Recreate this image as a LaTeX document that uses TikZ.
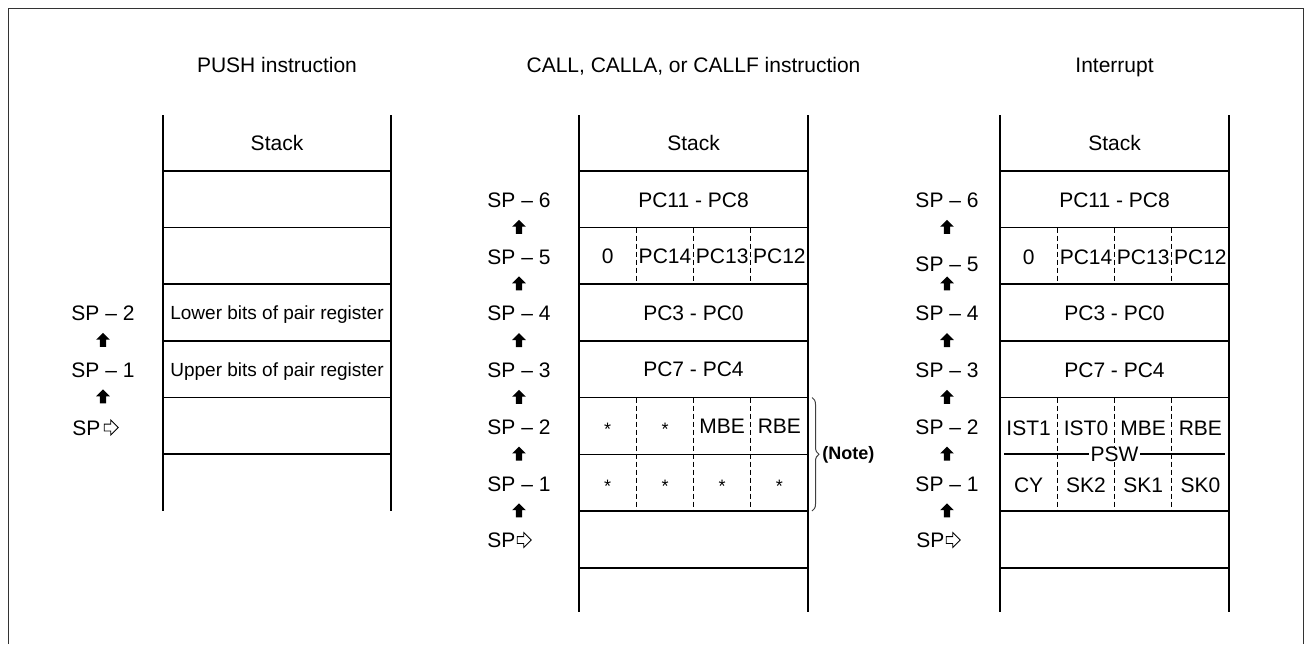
\documentclass[tikz,border=0pt]{standalone}
\usepackage{fontspec}
\setmainfont{Liberation Sans}
\usetikzlibrary{positioning,shapes.arrows,decorations.pathreplacing}

\tikzset{
	txt/.style={inner sep=0pt, font=\fontsize{10.5}{12.6}\selectfont, text height=7.5pt, text depth=0pt},
	small/.style={inner sep=0pt, font=\fontsize{9.5}{11.4}\selectfont, text height=6.8pt, text depth=0pt},
	star/.style={txt, font=\fontsize{9}{10.8}\selectfont, yshift=-0.8pt},
	note/.style={inner sep=0pt, font=\bfseries\fontsize{9}{10.8}\selectfont, anchor=west},
	uarr/.style={single arrow, fill=black, shape border rotate=90, inner sep=1.4pt,
		minimum height=7pt, minimum width=6.5pt, single arrow head extend=1.8pt},
	rarr/.style={single arrow, draw, fill=white, line width=0.4pt, inner sep=1.5pt,
		minimum height=7pt, minimum width=7pt, single arrow head extend=2pt},
	wall/.style={line width=1.3pt},
	rowline/.style={line width=0.8pt},
	divline/.style={line width=0.65pt, dash pattern=on 2.5pt off 1.5pt},
}

\begin{document}
\begin{tikzpicture}[x=0.5pt, y=-0.5pt]
	\useasboundingbox (0,0) rectangle (1305,644);
	\draw[line width=0.5pt, black!80] (8,644) -- (8,8) -- (1303,8) -- (1303,644);

	% titles
	\node[txt] (pushtitle) at (277,65) {PUSH instruction};
	\node[txt] (calltitle) at (693.5,65) {CALL, CALLA, or CALLF instruction};
	\node[txt] (inttitle) at (1114.5,65) {Interrupt};

	% PUSH stack
	\draw[wall] (163,115) -- (163,511);
	\draw[wall] (391,115) -- (391,511);
	\draw[rowline] (163,171) -- (391,171) (163,227.5) -- (391,227.5) (163,284) -- (391,284)
		(163,341) -- (391,341) (163,397.5) -- (391,397.5) (163,454) -- (391,454);
	\node[txt] (pstack) at (277,143) {Stack};
	\node[small] (plow) at (277,313) {Lower bits of pair register};
	\node[small] (pup) at (277,369.5) {Upper bits of pair register};

	\begin{scope}[on grid, node distance=14.18pt]
		\node[txt] (p2) at (103,313) {SP -- 2};
		\node[uarr, below=of p2] (pa2) {};
		\node[txt, below=of pa2] (p1) {SP -- 1};
		\node[uarr, below=of p1] (pa1) {};
	\end{scope}
	\node[txt, anchor=west] (p0) at (72,427.5) {SP};
	\node[rarr, right=1.5pt of p0] (pr0) {};

	% CALL stack
	\draw[wall] (579,115) -- (579,612);
	\draw[wall] (808,115) -- (808,612);
	\draw[rowline] (579,171) -- (808,171) (579,227.5) -- (808,227.5) (579,284) -- (808,284)
		(579,341) -- (808,341) (579,397.5) -- (808,397.5) (579,454.5) -- (808,454.5)
		(579,511) -- (808,511) (579,568) -- (808,568);
	\draw[divline] (636.3,227.5) -- (636.3,284) (693.5,227.5) -- (693.5,284) (750.8,227.5) -- (750.8,284);
	\draw[divline] (636.3,397.5) -- (636.3,511) (693.5,397.5) -- (693.5,511) (750.8,397.5) -- (750.8,511);
	\node[txt] (cstack) at (693.5,143) {Stack};
	\node[txt] (cpc11) at (693.5,199.5) {PC11 - PC8};
	\node[txt] (czero) at (607.6,256) {0};
	\node[txt] (cpc14) at (665,256) {PC14};
	\node[txt] (cpc13) at (722.2,256) {PC13};
	\node[txt] (cpc12) at (779.4,256) {PC12};
	\node[txt] (cpc3) at (693.5,312.5) {PC3 - PC0};
	\node[txt] (cpc7) at (693.5,369) {PC7 - PC4};
	\node[star] (cs1) at (607.6,426) {*};
	\node[star] (cs2) at (665,426) {*};
	\node[txt] (cmbe) at (722.2,426) {MBE};
	\node[txt] (crbe) at (779.4,426) {RBE};
	\node[star] (cs3) at (607.6,483) {*};
	\node[star] (cs4) at (665,483) {*};
	\node[star] (cs5) at (722.2,483) {*};
	\node[star] (cs6) at (779.4,483) {*};
	\coordinate (bracetop) at (812,397.5);
	\coordinate (bracebot) at (812,511);
	\draw[decorate, decoration={brace, amplitude=3.5pt}, line width=0.5pt, black!75] (bracetop) -- (bracebot);
	\node[note] (cnote) at (822,455) {(Note)};

	\begin{scope}[on grid, node distance=14.18pt]
		\node[txt] (c6) at (519,200) {SP -- 6};
		\node[uarr, below=of c6] (ca6) {};
		\node[txt, below=of ca6] (c5) {SP -- 5};
		\node[uarr, below=of c5] (ca5) {};
		\node[txt, below=of ca5] (c4) {SP -- 4};
		\node[uarr, below=of c4] (ca4) {};
		\node[txt, below=of ca4] (c3) {SP -- 3};
		\node[uarr, below=of c3] (ca3) {};
		\node[txt, below=of ca3] (c2) {SP -- 2};
		\node[uarr, below=of c2] (ca2) {};
		\node[txt, below=of ca2] (c1) {SP -- 1};
		\node[uarr, below=of c1] (ca1) {};
	\end{scope}
	\node[txt, anchor=west] (c0) at (487,540) {SP};
	\node[rarr, right=0.5pt of c0] (cr0) {};

	% Interrupt stack
	\draw[wall] (1000,115) -- (1000,612);
	\draw[wall] (1229,115) -- (1229,612);
	\draw[rowline] (1000,171) -- (1229,171) (1000,227.5) -- (1229,227.5) (1000,284) -- (1229,284)
		(1000,341) -- (1229,341) (1000,397.5) -- (1229,397.5)
		(1000,511) -- (1229,511) (1000,568) -- (1229,568);
	\draw[divline] (1057.3,227.5) -- (1057.3,284) (1114.5,227.5) -- (1114.5,284) (1171.8,227.5) -- (1171.8,284);
	\draw[divline] (1057.3,397.5) -- (1057.3,511) (1114.5,397.5) -- (1114.5,511) (1171.8,397.5) -- (1171.8,511);
	\draw[rowline] (1004,454) -- (1225,454);
	\node[txt, fill=white, inner xsep=1pt] (ipsw) at (1114.5,454) {PSW};
	\node[txt] (istack) at (1114.5,143) {Stack};
	\node[txt] (ipc11) at (1114.5,200) {PC11 - PC8};
	\node[txt] (izero) at (1028.6,256.5) {0};
	\node[txt] (ipc14) at (1086,256.5) {PC14};
	\node[txt] (ipc13) at (1143.2,256.5) {PC13};
	\node[txt] (ipc12) at (1200.4,256.5) {PC12};
	\node[txt] (ipc3) at (1114.5,313) {PC3 - PC0};
	\node[txt] (ipc7) at (1114.5,369.5) {PC7 - PC4};
	\node[txt] (iist1) at (1028.6,428) {IST1};
	\node[txt] (iist0) at (1086,428) {IST0};
	\node[txt] (imbe) at (1143.2,428) {MBE};
	\node[txt] (irbe) at (1200.4,428) {RBE};
	\node[txt] (icy) at (1028.6,485) {CY};
	\node[txt] (isk2) at (1086,485) {SK2};
	\node[txt] (isk1) at (1143.2,485) {SK1};
	\node[txt] (isk0) at (1200.4,485) {SK0};

	\begin{scope}[on grid, node distance=14.18pt]
		\node[txt] (i6) at (947,200) {SP -- 6};
		\node[uarr, below=of i6] (ia6) {};
		\node[txt, below=of ia6, yshift=-3.5pt] (i5) {SP -- 5};
		\node[uarr, below=28.36pt of ia6] (ia5) {};
		\node[txt, below=of ia5] (i4) {SP -- 4};
		\node[uarr, below=of i4] (ia4) {};
		\node[txt, below=of ia4] (i3) {SP -- 3};
		\node[uarr, below=of i3] (ia3) {};
		\node[txt, below=of ia3] (i2) {SP -- 2};
		\node[uarr, below=of i2] (ia2) {};
		\node[txt, below=of ia2] (i1) {SP -- 1};
		\node[uarr, below=of i1] (ia1) {};
	\end{scope}
	\node[txt, anchor=west] (i0) at (916,540) {SP};
	\node[rarr, right=0.5pt of i0] (ir0) {};
\end{tikzpicture}
\end{document}
